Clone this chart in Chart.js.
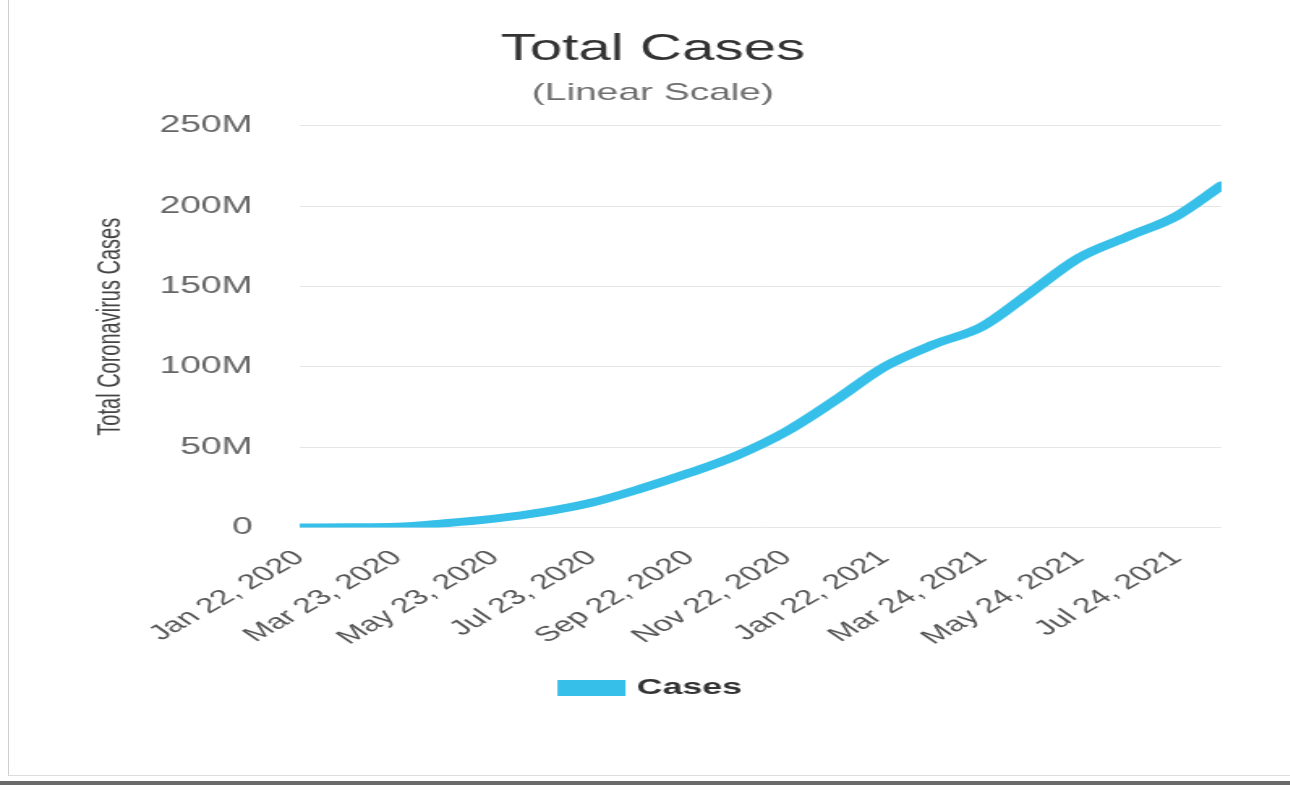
<!DOCTYPE html>
<html>
<head>
<meta charset="utf-8">
<title>Total Cases</title>
<script src="https://cdn.jsdelivr.net/npm/chart.js@4.4.1/dist/chart.umd.min.js"></script>
<style>
    html, body { margin: 0; padding: 0; background: #fff; }
    body { width: 1290px; height: 785px; position: relative; overflow: hidden; }
    .frame {
        position: absolute; left: 8px; top: 0; width: 1290px; height: 775px;
        border-left: 1px solid #cfcfcf; border-bottom: 1px solid #dcdcdc;
    }
    .bottom-bar { position: absolute; left: 0; top: 781px; width: 1290px; height: 4px; background: #6a6a6a; }
    #casesChart {
        position: absolute; left: 0; top: 0;
        transform: scaleX(1.62); transform-origin: 0 0;
    }
</style>
</head>
<body>
<div class="frame"></div>
<div class="bottom-bar"></div>
<canvas id="casesChart" width="796" height="785"></canvas>

<script>
// days since Jan 22, 2020 and total cases (millions)
const caseDays   = [0, 31, 61, 91, 122, 152, 183, 213, 244, 274, 305, 335, 366, 397, 427, 457, 488, 518, 549, 577];
const caseValues = [0.0006, 0.08, 0.4, 2.6, 5.5, 9.5, 15.5, 24, 34, 45, 60, 79, 100, 114, 125, 146, 168, 181, 194, 213];

const tickDays   = [0, 61, 122, 183, 244, 305, 366, 427, 488, 549];
const tickLabels = ['Jan 22, 2020', 'Mar 23, 2020', 'May 23, 2020', 'Jul 23, 2020', 'Sep 22, 2020',
                    'Nov 22, 2020', 'Jan 22, 2021', 'Mar 24, 2021', 'May 24, 2021', 'Jul 24, 2021'];

const lineColor = '#35bfe9';

Chart.defaults.font.family = "'Liberation Sans', Arial, sans-serif";

document.addEventListener('DOMContentLoaded', function () {
    const ctx = document.getElementById('casesChart').getContext('2d');

    new Chart(ctx, {
        type: 'line',
        data: {
            datasets: [{
                label: 'Cases',
                data: caseDays.map((d, i) => ({ x: d, y: caseValues[i] })),
                borderColor: lineColor,
                backgroundColor: lineColor,
                borderWidth: 8,
                pointRadius: 0,
                cubicInterpolationMode: 'monotone',
                borderCapStyle: 'round',
                fill: false
            }]
        },
        options: {
            responsive: false,
            animation: false,
            layout: {
                padding: { top: 0, left: 52, right: 42, bottom: 76 }
            },
            scales: {
                x: {
                    type: 'linear',
                    min: 0,
                    max: caseDays[caseDays.length - 1],
                    afterBuildTicks: axis => {
                        axis.ticks = tickDays.map(v => ({ value: v }));
                    },
                    afterFit: axis => { axis.paddingLeft = 0; },
                    grid: { display: false },
                    border: { display: false },
                    ticks: {
                        autoSkip: false,
                        minRotation: 42.5,
                        maxRotation: 42.5,
                        padding: 10,
                        color: '#555',
                        font: { size: 21 },
                        callback: value => tickLabels[tickDays.indexOf(value)]
                    }
                },
                y: {
                    min: 0,
                    max: 250,
                    // keep the axis column as wide as the reference
                    afterFit: axis => { axis.width = 133; },
                    border: { display: false },
                    grid: { color: '#e6e6e6', drawTicks: false },
                    ticks: {
                        stepSize: 50,
                        padding: 29,
                        color: '#666',
                        font: { size: 23 },
                        callback: value => value === 0 ? '0' : value + 'M'
                    },
                    title: {
                        display: true,
                        text: 'Total Coronavirus Cases',
                        color: '#444',
                        font: { size: 20 },
                        padding: { top: 4, bottom: 21 }
                    }
                }
            },
            plugins: {
                title: {
                    display: true,
                    text: 'Total Cases',
                    color: '#333',
                    font: { size: 36, weight: 'normal' },
                    padding: { top: 28, bottom: 0 }
                },
                subtitle: {
                    display: true,
                    text: '(Linear Scale)',
                    color: '#6e6e6e',
                    font: { size: 24 },
                    padding: { top: 8, bottom: 18 }
                },
                legend: {
                    display: true,
                    position: 'bottom',
                    labels: {
                        boxWidth: 34,
                        boxHeight: 8,
                        padding: 17,
                        color: '#333',
                        font: { size: 22, weight: 'bold' }
                    }
                },
                tooltip: { enabled: false }
            }
        }
    });
});
</script>
</body>
</html>
